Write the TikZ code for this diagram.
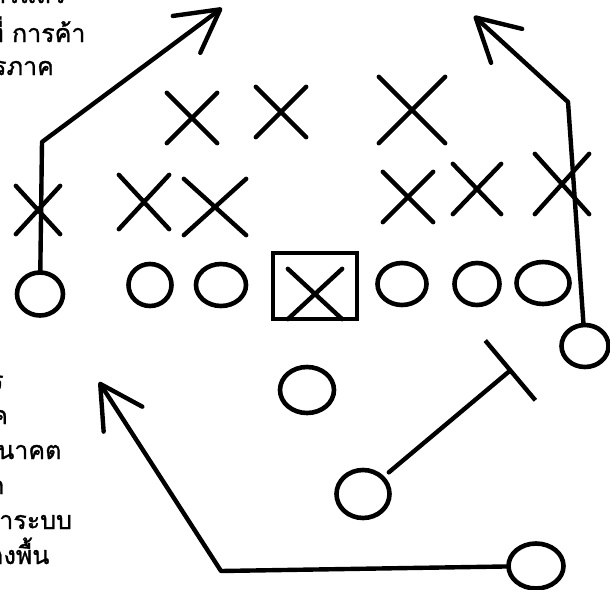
\documentclass[tikz,border=0pt]{standalone}
\usepackage{fontspec}
\newfontfamily\thaifont[Script=Thai, FakeBold=1.2]{Loma}
\usetikzlibrary{arrows.meta,shapes.geometric,shapes.misc}

\begin{document}
\begin{tikzpicture}[
  x=1pt, y=-1pt,
  every node/.style={inner sep=0pt},
  player/.style={ellipse, draw, line width=4.6pt, minimum width=46pt, minimum height=42pt},
  defender/.style={cross out, draw, line width=4.4pt, line cap=round, minimum width=46pt, minimum height=46pt},
  ballbox/.style={rectangle, draw, line width=4.6pt, minimum width=84pt, minimum height=66pt},
  note/.style={font=\thaifont\fontsize{25}{30}\selectfont, anchor=base west},
  route/.style={line width=4.4pt, line cap=round, line join=round},
  routearrow/.style={route, -{Straight Barb[length=42pt, width=46pt, round]}},
  blockline/.style={route, -{Bar[width=78pt]}},
]
\useasboundingbox (0,0) rectangle (610,589);
\clip (0,0) rectangle (610,589);

% Notes cut at the left edge
\node[note] (t1) at (-8,3) {ารแล้ว};
\node[note] (t2) at (-13,42) {ที่ การค้า};
\node[note] (t3) at (-7,75) {รภาค};
\node[note] (n1) at (-10,389) {ร};
\node[note] (n2) at (-9,424) {ค};
\node[note] (n3) at (-18,459) {อนาคต};
\node[note] (n4) at (-11,494) {ก};
\node[note] (n5) at (-18,529) {นาระบบ};
\node[note] (n6) at (-24,564) {ร้างพื้น};

% Defence, back row
\node[defender] (xa) at (192,118) {};
\node[defender] (xb) at (281,112) {};
\node[defender, minimum width=62pt, minimum height=62pt] (xc) at (412,110) {};
% Defence, front row
\node[defender, minimum width=40pt, minimum height=44pt] (xd) at (38,210) {};
\node[defender, minimum height=50pt] (xe) at (144,202) {};
\node[defender, minimum width=58pt, minimum height=52pt] (xf) at (215,207) {};
\node[defender] (xg) at (408,197) {};
\node[defender, minimum width=44pt] (xh) at (477,189) {};
\node[defender, minimum width=50pt, minimum height=56pt] (xi) at (562,184) {};

% Offence, line of scrimmage
\node[player, minimum height=43pt] (o1) at (40,294) {};
\node[player, minimum width=43pt] (o2) at (150,285) {};
\node[player, minimum width=50pt] (o3) at (221,285) {};
\node[ballbox] (ball) at (315,286) {};
\node[defender, minimum width=50pt, minimum height=46pt] (xball) at (315,294) {};
\node[player, minimum width=49pt] (o4) at (402,284) {};
\node[player, minimum width=45pt] (o5) at (477,284) {};
\node[player, minimum width=53pt] (o6) at (543,283) {};

% Backs
\node[player, minimum width=54pt, minimum height=46pt] (om) at (307,390) {};
\node[player, minimum width=47pt] (or) at (585,346) {};
\node[player, minimum width=53pt, minimum height=48pt] (ol) at (363,494) {};
\node[player, minimum width=55pt, minimum height=45pt] (of) at (536,566) {};

% Routes
\coordinate (c1) at (42,142);
\coordinate (tip1) at (222,8);
\coordinate (c2) at (568,102);
\coordinate (tip2) at (474,16);
\coordinate (c3) at (221,571);
\coordinate (tip3) at (99,382);
\coordinate (blk) at (512,369);

\draw[routearrow] (o1) -- (c1) -- (tip1);
\draw[routearrow] (or) -- (c2) -- (tip2);
\draw[routearrow] (of) -- (c3) -- (tip3);
\draw[blockline, shorten <=6pt] (ol) -- (blk);
\end{tikzpicture}
\end{document}
